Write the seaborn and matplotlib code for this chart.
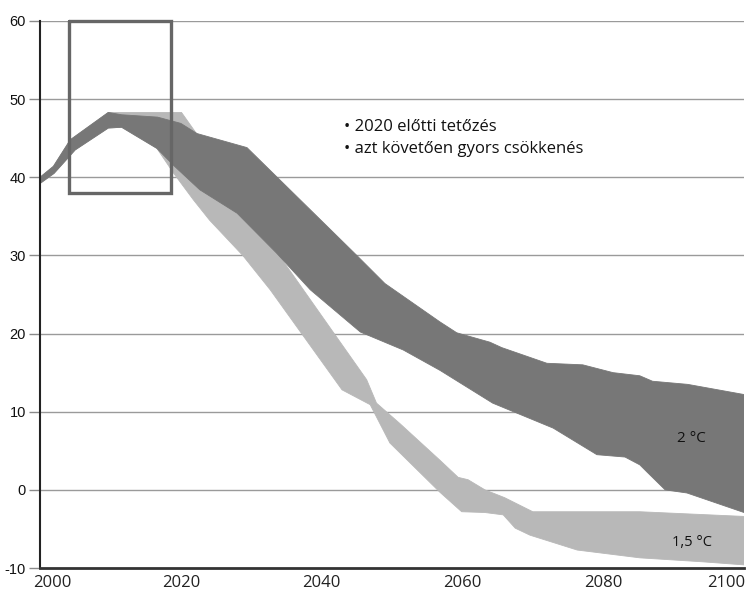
import numpy as np
import matplotlib
matplotlib.use("Agg")
import matplotlib.pyplot as plt
import matplotlib.transforms as mtransforms
import seaborn as sns
import pandas as pd

# 2 °C band (dark)
dark_up_x = [2000, 2001.9, 2004.3, 2009.7, 2011.6, 2016.7, 2020.0, 2022.3, 2029.4, 2045.0, 2049.0,
             2056.8, 2059.2, 2063.9, 2065.6, 2072.0, 2077.1, 2081.4, 2085.2, 2087.0, 2092.0, 2100]
dark_up_y = [40.0, 41.4, 44.8, 48.3, 48.0, 47.7, 46.9, 45.6, 43.8, 30.0, 26.4,
             21.5, 20.1, 18.9, 18.2, 16.2, 16.0, 15.0, 14.6, 13.9, 13.5, 12.2]
dark_lo_x = [2000, 2002.0, 2005.0, 2009.7, 2011.6, 2016.6, 2019.0, 2022.7, 2028.0, 2033.6, 2038.4,
             2045.5, 2051.6, 2056.8, 2064.3, 2072.9, 2079.1, 2083.1, 2085.2, 2086.2, 2088.8, 2091.9, 2100]
dark_lo_y = [39.2, 40.5, 43.5, 46.3, 46.4, 43.7, 41.5, 38.4, 35.4, 30.3, 25.6,
             20.2, 17.9, 15.3, 11.1, 7.9, 4.5, 4.2, 3.2, 2.3, 0.0, -0.4, -2.9]

# 1,5 °C band (light)
light_up_x = [2000, 2001.9, 2004.3, 2009.7, 2020.1, 2022.3, 2028.0, 2034.6, 2042.1, 2046.4, 2047.8,
              2051.1, 2056.8, 2059.4, 2060.8, 2063.2, 2066.0, 2070.0, 2085.2, 2100]
light_up_y = [40.0, 41.4, 44.8, 48.3, 48.3, 45.5, 39.0, 29.2, 19.6, 14.1, 11.1,
              8.5, 3.8, 1.6, 1.3, 0.0, -1.0, -2.8, -2.8, -3.4]
light_lo_x = [2000, 2002.0, 2005.0, 2009.7, 2011.6, 2016.6, 2019.0, 2021.8, 2024.1, 2028.8, 2032.7,
              2042.9, 2046.9, 2049.7, 2056.8, 2059.9, 2063.2, 2065.8, 2067.5, 2069.6, 2076.3, 2085.2, 2094.0, 2100]
light_lo_y = [39.2, 40.5, 43.5, 46.3, 46.4, 43.7, 40.5, 37.1, 34.5, 30.0, 25.6,
              12.8, 10.9, 6.0, -0.3, -2.8, -2.9, -3.2, -4.9, -5.8, -7.7, -8.7, -9.2, -9.6]

y_ticks = [-10, 0, 10, 20, 30, 40, 50, 60]
x_ticks = [2000, 2020, 2040, 2060, 2080, 2100]
bullets = ["• 2020 előtti tetőzés", "• azt követően gyors csökkenés"]
label_2 = "2 °C"
label_15 = "1,5 °C"

sns.set_style("white")
plt.rcParams['font.family'] = ['Open Sans', 'DejaVu Sans']

fig = plt.figure(figsize=(7.46, 5.94), dpi=100)
ax = fig.add_axes([40/746, 1-568/594, 704/746, 547/594])

DARK = "#777777"
LIGHT = "#b8b8b8"

def band(ux, uy, lx, ly, color, z):
    px = list(ux) + list(lx[::-1])
    py = list(uy) + list(ly[::-1])
    ax.fill(px, py, color=color, lw=0, zorder=z)
    sns.lineplot(x=ux, y=uy, ax=ax, color=color, lw=0.6, zorder=z, sort=False)
    sns.lineplot(x=lx, y=ly, ax=ax, color=color, lw=0.6, zorder=z, sort=False)

band(light_up_x, light_up_y, light_lo_x, light_lo_y, LIGHT, 2)
band(dark_up_x, dark_up_y, dark_lo_x, dark_lo_y, DARK, 3)

# highlight box
ax.plot([2004.1, 2018.6, 2018.6, 2004.1, 2004.1], [60, 60, 38, 38, 60],
        color="#666666", lw=2.4, zorder=5, solid_joinstyle="miter", clip_on=False)

ax.set_xlim(2000, 2100)
ax.set_ylim(-10, 60)
ax.set_yticks(y_ticks)
ax.set_xticks(x_ticks)
ax.set_yticklabels([str(v) for v in y_ticks], fontsize=10.5, color="#111111",
                   family=['Liberation Sans', 'DejaVu Sans'])
ax.set_xticklabels([str(v) for v in x_ticks], fontsize=12, color="#222222")
for v in y_ticks[1:]:
    ax.axhline(v, color="#9a9a9a", lw=1.0, zorder=1)
ax.tick_params(axis="y", length=8, width=1.0, color="#8a8a8a", pad=2, left=True)
ax.tick_params(axis="x", length=0, pad=5)
for s in ["top", "right"]:
    ax.spines[s].set_visible(False)
ax.spines["left"].set_color("#222222")
ax.spines["left"].set_linewidth(1.5)
ax.spines["bottom"].set_color("#333333")
ax.spines["bottom"].set_linewidth(2.0)
ax.spines["left"].set_zorder(6)
ax.spines["bottom"].set_zorder(6)
ax.set_xlabel("")
ax.set_ylabel("")

# end labels pushed inward, as in the reference
xl = ax.get_xticklabels()
xl[0].set_horizontalalignment("left")
xl[0].set_transform(xl[0].get_transform() + mtransforms.ScaledTranslation(-7/100, 0, fig.dpi_scale_trans))
xl[-1].set_horizontalalignment("right")
xl[-1].set_transform(xl[-1].get_transform() + mtransforms.ScaledTranslation(1/100, 0, fig.dpi_scale_trans))

ax.text(2043.2, 46.4, bullets[0], fontsize=12, color="#111111", va="center", zorder=7)
ax.text(2043.2, 43.6, bullets[1], fontsize=12, color="#111111", va="center", zorder=7)
ax.text(2090.5, 6.6, label_2, fontsize=11, color="#111111", va="center", zorder=7)
ax.text(2089.8, -6.7, label_15, fontsize=10.5, color="#111111", va="center", zorder=7)

fig.savefig("out.png", dpi=100)
